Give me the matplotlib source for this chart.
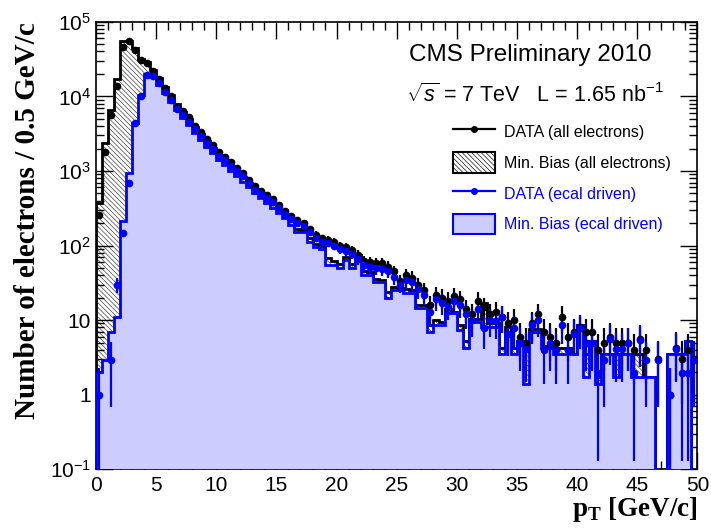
import numpy as np
import matplotlib
matplotlib.use("Agg")
import matplotlib.pyplot as plt
from matplotlib.lines import Line2D
from matplotlib.patches import Patch
from matplotlib.ticker import MultipleLocator, FixedLocator, FixedFormatter, LogLocator, NullFormatter

plt.rcParams['font.family'] = ['Liberation Sans', 'DejaVu Sans']
plt.rcParams['mathtext.fontset'] = 'custom'
plt.rcParams['mathtext.rm'] = 'Liberation Sans'
plt.rcParams['mathtext.it'] = 'Liberation Sans:italic'
plt.rcParams['mathtext.bf'] = 'Liberation Serif:bold'
plt.rcParams['hatch.linewidth'] = 0.45

# pT histogram, 100 bins of 0.5 GeV/c from 0 to 50
pt_min, pt_max, n_bins = 0.0, 50.0, 100

# Min. Bias (all electrons)
mc_all = [370, 2400, 6600, 17200, 54500, 56000, 45000, 32000, 28500, 22700,
          17700, 13500, 10300, 7800, 6200, 5000, 3900, 3100, 2500, 2050,
          1650, 1400, 1180, 980, 830, 690, 580, 500, 420, 360,
          300, 250, 210, 165, 160, 125, 105, 100, 68, 62,
          56, 70, 56, 75, 45, 44, 36, 35, 24, 28,
          27, 26, 25, 16, 16, 8.5, 10, 9.5, 14, 13,
          8.5, 5.3, 10.5, 10.5, 17, 9, 9, 4.2, 8, 4.2,
          5.3, 5.3, 7.5, 7.5, 4.5, 4.5, 4.2, 4.2, 4.2, 3.5,
          8.5, 3.5, 5.3, 1.75, 3.5, 3.5, 3.5, 3.5, 3.5, 3.5,
          3.5, 1.75, 1.75, 0, 0, 3.5, 3.5, 3.5, 5.3, 0]

# Min. Bias (ecal driven)
mc_ecal = [2, 2.9, 6.9, 11, 210, 940, 4400, 10500, 20000, 18300,
           14300, 11100, 8500, 6600, 5200, 4100, 3200, 2600, 2100, 1750,
           1400, 1200, 1000, 850, 720, 600, 510, 440, 370, 320,
           270, 235, 190, 150, 150, 112, 96, 90, 55, 55,
           50, 64, 50, 69, 40, 40, 32, 32, 20, 25,
           25, 23, 23, 14.5, 14.5, 6.9, 8.6, 8.6, 12.6, 12.6,
           7.3, 4.2, 9.5, 9.5, 8.1, 8.1, 8.1, 3.5, 7, 3.5,
           5.3, 1.4, 7, 7, 4.2, 4.2, 3.5, 3.5, 3.5, 3.5,
           8.5, 1.75, 5.3, 1.4, 3.5, 3.5, 1.75, 3.5, 3.5, 1.75,
           1.75, 1.75, 1.75, 0, 0, 3.5, 3.5, 3.5, 5.3, 0]

# DATA (all electrons)
data_all = [260, 1800, 5600, 13800, 46000, 54500, 42000, 31000, 28000, 22000,
            17200, 13000, 10000, 7300, 6300, 5300, 4000, 3300, 2700, 2200,
            1800, 1550, 1300, 1100, 950, 760, 620, 540, 470, 420,
            350, 290, 250, 220, 200, 165, 140, 125, 120, 112,
            100, 95, 87, 75, 62, 60, 58, 58, 52, 45,
            33, 40, 37, 30, 25, 16, 22, 20, 18, 21,
            19, 14, 12, 18, 15, 12, 13, 11, 9, 10,
            6, 5, 9, 12, 7, 6, 5, 11, 6, 7,
            8, 7, 7, 4, 5, 6, 5, 5, 5, 4,
            5.5, 4, 0, 3, 0, 1, 4.2, 3, 4, 3]

# DATA (ecal driven)
data_ecal = [1, 0, 2.9, 30, 148, 700, 4400, 10000, 19500, 19000,
             15000, 11500, 9000, 6800, 5600, 4600, 3600, 2900, 2400, 2000,
             1600, 1400, 1180, 1000, 850, 690, 560, 490, 430, 380,
             320, 265, 230, 200, 180, 150, 125, 112, 108, 100,
             90, 85, 78, 66, 55, 52, 50, 48, 45, 38,
             30, 34, 32, 26, 22, 13, 19, 17, 15, 18,
             16, 12, 10, 14, 7.8, 10, 9.6, 11, 6.6, 7.8,
             5, 4.1, 8.6, 10, 4, 5, 4, 8.6, 4, 6.6,
             7.8, 5, 5, 1.95, 2.9, 5.6, 4.1, 4.1, 5, 1.95,
             5.4, 2.9, 0, 2.9, 0, 1, 4.1, 1.95, 1.95, 2.9]

y_floor = 1e-3
edges = np.linspace(pt_min, pt_max, n_bins + 1)
centers = 0.5 * (edges[:-1] + edges[1:])
hatch_style = '\\\\\\\\\\\\\\'


def draw_points(ax, values, color):
    v = np.array(values, dtype=float)
    err = np.sqrt(1.7 * v)
    lo = np.clip(np.minimum(err, v - y_floor), 0, None)
    v_plot = np.where(v > 0, v, np.nan)
    ax.errorbar(centers, v_plot, yerr=[lo, err], fmt='o', color=color,
                ms=4.5, elinewidth=1.6, capsize=0, zorder=5)


fig = plt.figure(figsize=(7.11, 5.32), dpi=100)
ax = fig.add_axes([0.135, 0.118, 0.846, 0.841])

mc_all_d = np.maximum(np.array(mc_all, dtype=float), y_floor)
mc_ecal_d = np.maximum(np.array(mc_ecal, dtype=float), y_floor)

ax.stairs(mc_all_d, edges, baseline=y_floor, fill=True, facecolor='white',
          edgecolor='#333333', hatch=hatch_style, linewidth=0, zorder=1)
ax.stairs(mc_all_d, edges, baseline=y_floor, color='black', linewidth=2, zorder=2)
ax.stairs(mc_ecal_d, edges, baseline=y_floor, fill=True, facecolor='#ccccff',
          edgecolor='none', zorder=3)
ax.stairs(mc_ecal_d, edges, baseline=y_floor, color='blue', linewidth=2, zorder=4)

draw_points(ax, data_all, 'black')
draw_points(ax, data_ecal, 'blue')

ax.set_yscale('log')
ax.set_xlim(pt_min, pt_max)
ax.set_ylim(0.1, 1e5)

ax.xaxis.set_major_locator(MultipleLocator(5))
ax.xaxis.set_minor_locator(MultipleLocator(1))
ax.yaxis.set_major_locator(FixedLocator([0.1, 1, 10, 100, 1e3, 1e4, 1e5]))
ax.yaxis.set_major_formatter(FixedFormatter(
    [r'$10^{-1}$', '1', '10', r'$10^{2}$', r'$10^{3}$', r'$10^{4}$', r'$10^{5}$']))
ax.yaxis.set_minor_locator(LogLocator(base=10, subs=np.arange(2, 10), numticks=20))
ax.yaxis.set_minor_formatter(NullFormatter())
ax.tick_params(which='both', direction='in', top=True, right=True, labelsize=15)
ax.tick_params(which='major', length=12, width=1)
ax.tick_params(which='minor', length=6, width=1)
ax.tick_params(axis='x', which='major', pad=5)
for s in ax.spines.values():
    s.set_linewidth(1.2)

ax.set_xlabel(r'$\mathbf{p}_{\mathbf{T}}$ [GeV/c]', loc='right', fontsize=19.5,
              family='Liberation Serif', weight='bold', labelpad=0)
ax.set_ylabel('Number of electrons / 0.5 GeV/c', loc='top', fontsize=21,
              family='Liberation Serif', weight='bold', labelpad=6)

ax.text(0.722, 0.925, 'CMS Preliminary 2010', transform=ax.transAxes,
        ha='center', va='center', fontsize=17.5)
ax.text(0.73, 0.835, r'$\sqrt{s}$ = 7 TeV   L = 1.65 nb$^{-1}$', transform=ax.transAxes,
        ha='center', va='center', fontsize=15.5)

handles = [
    Line2D([], [], color='black', marker='o', ms=4, lw=1.6),
    Patch(facecolor='white', edgecolor='black', hatch=hatch_style, linewidth=1.5),
    Line2D([], [], color='blue', marker='o', ms=4, lw=1.6),
    Patch(facecolor='#ccccff', edgecolor='blue', linewidth=1.5),
]
labels = ['DATA (all electrons)', 'Min. Bias (all electrons)',
          'DATA (ecal driven)', 'Min. Bias (ecal driven)']
ax.legend(handles, labels, loc='upper left', bbox_to_anchor=(0.57, 0.81),
          frameon=False, fontsize=11.5, handlelength=2.6, handleheight=1.6,
          labelspacing=0.65, handletextpad=0.6,
          labelcolor=['black', 'black', 'blue', 'blue'])

fig.savefig('out.png', dpi=100)
